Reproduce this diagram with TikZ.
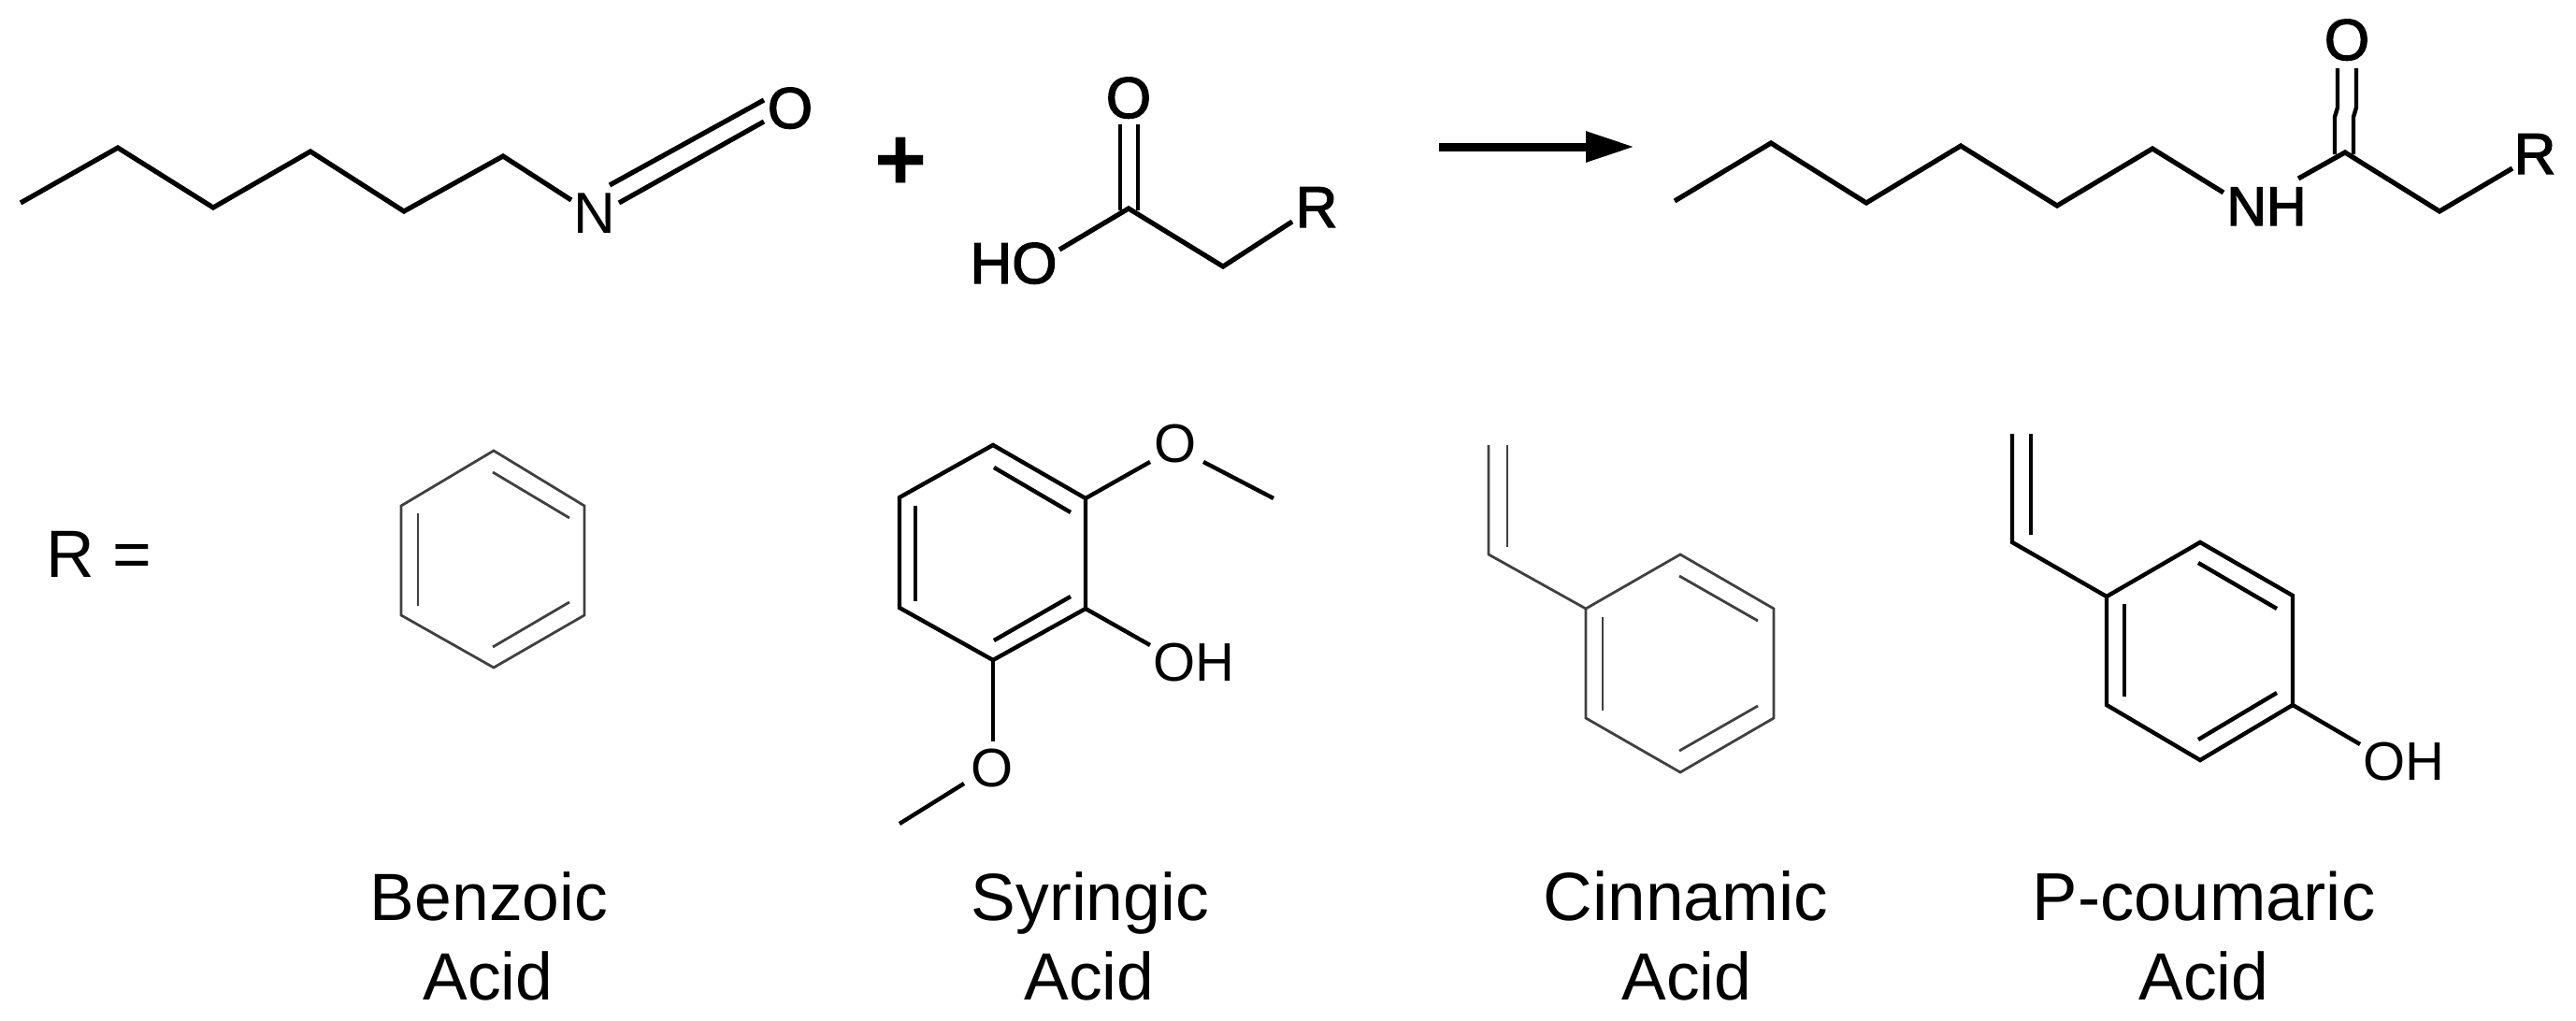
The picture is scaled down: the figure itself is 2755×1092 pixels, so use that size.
\documentclass[tikz,border=0pt]{standalone}
\usepackage{fontspec}
\setmainfont{Liberation Sans}
\newfontfamily\semibold[FakeBold=2.2]{Liberation Sans}
\usetikzlibrary{arrows.meta}
\tikzset{
  x=1pt,y=-1pt,
  heavy/.style={draw=black,line width=5.2pt,line cap=butt,line join=miter},
  medium/.style={draw=black,line width=4.4pt,line cap=butt,line join=miter},
  fine/.style={draw=black!75,line width=2.8pt,line cap=butt,line join=miter},
  atom/.style={inner sep=0pt,outer sep=0pt,anchor=base,font=\fontsize{62}{62}\selectfont},
  atomb/.style={atom,font=\fontsize{62}{62}\semibold},
  small/.style={inner sep=0pt,outer sep=0pt,anchor=base,font=\fontsize{58}{58}\selectfont},
  caption/.style={inner sep=0pt,outer sep=0pt,anchor=base,font=\fontsize{71.5}{71.5}\selectfont},
}
\begin{document}
\begin{tikzpicture}
\useasboundingbox (0,0) rectangle (2755,1092);
% isocyanate
\node[atom] (n1) at (636,249) {N};
\node[atomb] (o1) at (845,137) {O};
\draw[heavy] (22,217) -- (126,158) -- (228,222) -- (332,162) -- (432,226) -- (538,167) -- (611,214);
\draw[heavy] (652,198) -- (817,107);
\draw[heavy] (662,217) -- (817,130);
% plus
\node[inner sep=0pt,font=\fontsize{96}{96}\selectfont\bfseries] (plus) at (964,175) {+};
% acid
\node[atomb] (o2) at (1207,126) {O};
\node[atomb] (ho) at (1084,303) {HO};
\node[atomb] (r1) at (1408,243) {R};
\draw[heavy] (1133,267) -- (1207,223) -- (1308,285) -- (1382,237);
\draw[medium] (1198,133) -- (1198,225);
\draw[medium] (1217,133) -- (1217,225);
% arrow
\coordinate (a1) at (1539,157);
\coordinate (a2) at (1748,157);
\draw[line width=9pt,-{Triangle[length=52pt,width=31pt]}] (a1) -- (a2);
% product
\node[atomb,font=\fontsize{59}{59}\semibold] (nh) at (2424,241) {NH};
\node[atomb] (o3) at (2510,64) {O};
\node[atomb] (r2) at (2711,186) {R};
\draw[heavy] (1791,215) -- (1894,153) -- (1996,217) -- (2097,156) -- (2200,220) -- (2302,159) -- (2378,206);
\draw[heavy] (2458,191) -- (2508,163) -- (2609,226) -- (2687,180);
\draw[medium] (2500,73) -- (2500,115) -- (2497,125) -- (2497,165);
\draw[medium] (2520,73) -- (2520,115) -- (2517,125) -- (2517,165);
% R =
\node[caption,anchor=base west] (req) at (49,617) {R =};
% benzene
\draw[fine] (528,482) -- (625,541) -- (625,658) -- (528,714) -- (429,658) -- (429,541) -- cycle;
\draw[fine] (447,549) -- (447,648);
\draw[fine] (527,505) -- (609,554);
\draw[fine] (609,644) -- (527,692);
% syringic
\node[small] (so1) at (1257,494) {O};
\node[small] (soh) at (1277,728) {OH};
\node[small] (so2) at (1061,841) {O};
\draw[medium] (1062,476) -- (1161,533) -- (1161,651) -- (1062,706) -- (962,650) -- (962,532) -- cycle;
\draw[medium] (979,541) -- (979,643);
\draw[medium] (1063,500) -- (1145,548);
\draw[medium] (1145,638) -- (1063,685);
\draw[medium] (1161,533) -- (1230,494);
\draw[medium] (1287,494) -- (1362,533);
\draw[medium] (1161,651) -- (1230,690);
\draw[medium] (1062,706) -- (1062,793);
\draw[medium] (1031,838) -- (962,881);
% cinnamic
\draw[fine] (1592,476) -- (1592,593) -- (1696,651);
\draw[fine] (1612,476) -- (1612,585);
\draw[fine] (1797,593) -- (1897,651) -- (1897,768) -- (1797,826) -- (1696,768) -- (1696,651) -- cycle;
\draw[fine] (1714,660) -- (1714,760);
\draw[fine] (1796,616) -- (1880,664);
\draw[fine] (1880,755) -- (1796,803);
% p-coumaric
\node[small] (poh) at (2571,834) {OH};
\draw[medium] (2152,464) -- (2152,580) -- (2253,638);
\draw[medium] (2172,464) -- (2172,572);
\draw[medium] (2353,580) -- (2452,637) -- (2452,754) -- (2353,813) -- (2253,754) -- (2253,638) -- cycle;
\draw[medium] (2272,646) -- (2272,745);
\draw[medium] (2351,602) -- (2435,651);
\draw[medium] (2435,741) -- (2351,791);
\draw[medium] (2452,754) -- (2524,796);
% captions
\node[caption] (c1a) at (523,984.5) {Benzoic};
\node[caption] (c1b) at (522,1069) {Acid};
\node[caption] (c2a) at (1166,984.5) {Syringic};
\node[caption] (c2b) at (1165,1069) {Acid};
\node[caption,font=\fontsize{73}{73}\selectfont] (c3a) at (1803,984.5) {Cinnamic};
\node[caption] (c3b) at (1804,1069) {Acid};
\node[caption,font=\fontsize{72.5}{72.5}\selectfont] (c4a) at (2357,984.5) {P-coumaric};
\node[caption] (c4b) at (2357,1069) {Acid};
\end{tikzpicture}
\end{document}
